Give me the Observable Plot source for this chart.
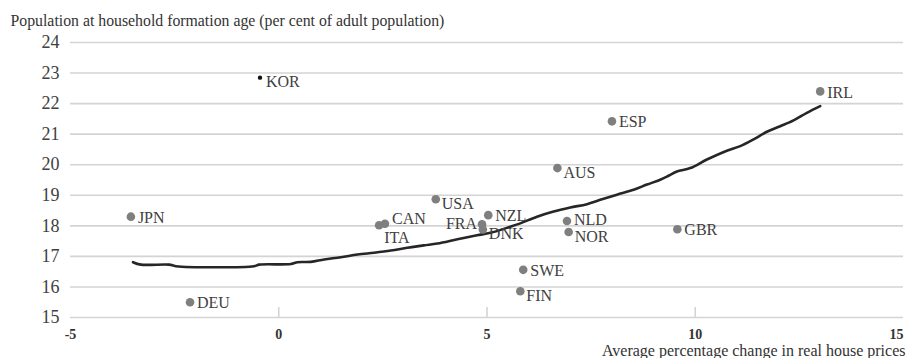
<!DOCTYPE html>
<html>
<head>
<meta charset="utf-8">
<script src="https://cdn.jsdelivr.net/npm/d3@7"></script>
<script src="https://cdn.jsdelivr.net/npm/@observablehq/plot@0.6"></script>
<style>
  body { margin: 0; background: #fff; }
  #chart svg { display: block; overflow: visible; }
</style>
</head>
<body>
<div id="chart"></div>
<script>
// Countries: average real house price growth vs. share of population at household formation age
const countries    = ["KOR", "JPN", "DEU", "CAN", "ITA", "USA", "NZL", "FRA", "DNK", "NLD", "NOR", "SWE", "FIN", "AUS", "ESP", "IRL", "GBR"];
const priceChange  = [-0.45, -3.55, -2.13, 2.55, 2.41, 3.77, 5.03, 4.88, 4.90, 6.92, 6.96, 5.87, 5.80, 6.69, 8.00, 13.00, 9.57];
const householdAge = [22.85, 18.30, 15.50, 18.07, 18.02, 18.87, 18.35, 18.05, 17.88, 18.16, 17.80, 16.56, 15.86, 19.89, 21.42, 22.40, 17.89];

// Fitted relationship
const fitPriceChange  = [-3.50, -3.31, -2.63, -2.47, -0.59, -0.47, 0.29, 0.45, 0.77, 1.09, 1.49, 1.89, 2.29, 2.69, 3.09, 3.48, 3.81, 4.29, 4.76, 5.08, 5.56, 5.80, 6.20, 6.60, 7.00, 7.40, 7.72, 8.12, 8.52, 8.84, 9.16, 9.36, 9.56, 9.88, 10.28, 10.76, 11.08, 11.40, 11.72, 12.04, 12.36, 12.68, 13.00];
const fitHouseholdAge = [16.81, 16.73, 16.73, 16.68, 16.68, 16.73, 16.75, 16.81, 16.82, 16.90, 16.97, 17.06, 17.12, 17.19, 17.28, 17.36, 17.42, 17.56, 17.69, 17.77, 17.97, 18.08, 18.30, 18.47, 18.60, 18.71, 18.85, 19.02, 19.18, 19.35, 19.51, 19.64, 19.78, 19.89, 20.17, 20.46, 20.61, 20.83, 21.08, 21.26, 21.45, 21.70, 21.92];

const yTicks = [15, 16, 17, 18, 19, 20, 21, 22, 23, 24];
const xTicks = [-5, 0, 5, 10, 15];
const xMinorMarks = [0, 5, 10];
const yTitle = "Population at household formation age (per cent of adult population)";
const xTitle = "Average percentage change in real house prices";

const points = countries.map((country, i) => ({country, x: priceChange[i], y: householdAge[i]}));
const fit = fitPriceChange.map((x, i) => ({x, y: fitHouseholdAge[i]}));

const width = 909, height = 358;
const margin = {top: 42, right: 6, bottom: 41, left: 70};
const frameHeight = height - margin.top - margin.bottom;

// Label placement groups around each dot
const placements = [
  {names: ["JPN", "DEU", "NZL", "SWE", "ESP", "IRL", "GBR"], dx: 7, dy: 1, anchor: "start"},
  {names: ["NLD"], dx: 7, dy: -1, anchor: "start"},
  {names: ["KOR", "AUS", "USA", "NOR", "FIN", "DNK"], dx: 6, dy: 4.5, anchor: "start"},
  {names: ["FRA"], dx: -5, dy: 0, anchor: "end"},
  {names: ["ITA"], dx: 5, dy: 12.5, anchor: "start"},
  {names: ["CAN"], dx: 7, dy: -5, anchor: "start"}
];

const labelMarks = placements.map(p => Plot.text(points.filter(d => p.names.includes(d.country)), {
  x: "x", y: "y", text: "country",
  dx: p.dx, dy: p.dy, textAnchor: p.anchor, lineAnchor: "middle",
  fill: "#404040", fontSize: 16
}));

const chart = Plot.plot({
  width, height,
  marginTop: margin.top, marginRight: margin.right,
  marginBottom: margin.bottom, marginLeft: margin.left,
  style: {fontFamily: "'Liberation Serif', 'Times New Roman', serif", background: "#fff"},
  x: {domain: [-5, 15], axis: null},
  y: {domain: [15, 24], axis: null},
  marks: [
    Plot.ruleY(yTicks, {stroke: "#d4d4d4", strokeWidth: 1.6}),
    Plot.ruleX(xMinorMarks, {stroke: "#d4d4d4", strokeWidth: 1.6, insetTop: frameHeight - 10}),
    // y tick labels
    Plot.text(yTicks, {x: -5, y: d => d, text: d => String(d), textAnchor: "end", lineAnchor: "middle", dx: -11, fill: "#404040", fontSize: 18}),
    // x tick labels (last one flush with the right edge)
    Plot.text(xTicks.slice(0, -1), {x: d => d, y: 15, text: d => String(d), lineAnchor: "middle", dy: 17, fontWeight: "bold", fill: "#333", fontSize: 14}),
    Plot.text(xTicks.slice(-1), {x: d => d, y: 15, text: d => String(d), lineAnchor: "middle", dy: 17, textAnchor: "end", fontWeight: "bold", fill: "#333", fontSize: 14}),
    // axis titles
    Plot.text([yTitle], {frameAnchor: "top-left", text: d => d, textAnchor: "start", lineAnchor: "middle", dx: -60, dy: -22, fill: "#333", fontSize: 15.8}),
    Plot.text([xTitle], {frameAnchor: "bottom-right", text: d => d, textAnchor: "end", lineAnchor: "middle", dx: 2, dy: 33, fill: "#333", fontSize: 16}),
    // fitted curve
    Plot.line(fit, {x: "x", y: "y", stroke: "#262626", strokeWidth: 2.6, curve: "catmull-rom"}),
    // countries
    Plot.dot(points.filter(d => d.country !== "KOR"), {x: "x", y: "y", r: 4.3, fill: "#7f7f7f", stroke: "none"}),
    Plot.dot(points.filter(d => d.country === "KOR"), {x: "x", y: "y", r: 2.2, fill: "#111", stroke: "none"}),
    ...labelMarks
  ]
});

document.getElementById("chart").appendChild(chart);
</script>
</body>
</html>
